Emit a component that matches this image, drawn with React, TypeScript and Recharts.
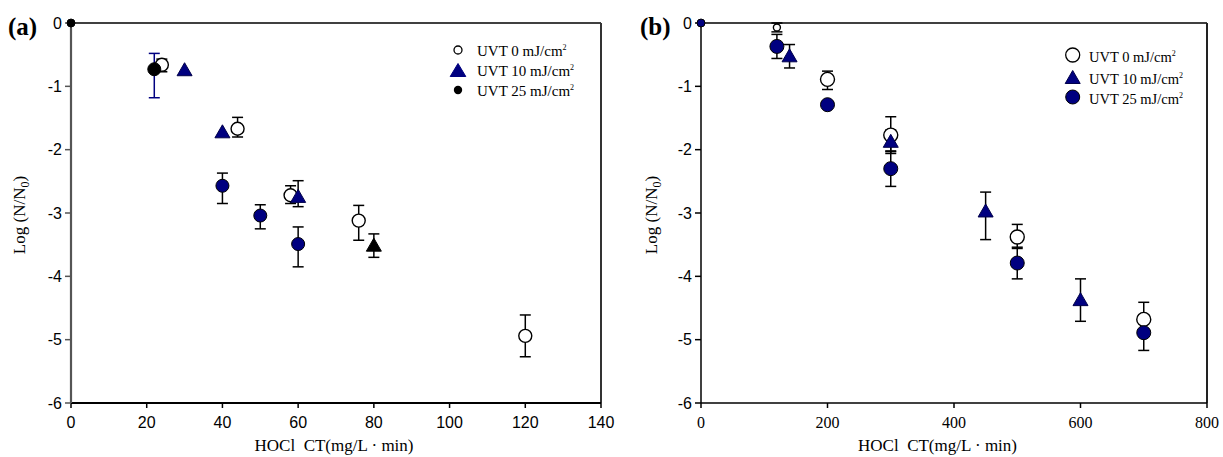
import React from 'react';
import { ScatterChart, Scatter, XAxis, YAxis, ErrorBar, ReferenceLine, Legend, Label } from 'recharts';

const NAVY = '#000080';
const BLACK = '#000000';
const SERIF = '"Liberation Serif", "Times New Roman", Times, serif';
const SANS = '"Liberation Sans", Arial, Helvetica, sans-serif';

// ---- shared tick labels / texts ----
const yTicks = [-6, -5, -4, -3, -2, -1, 0];
const xTicksA = [0, 20, 40, 60, 80, 100, 120, 140];
const xTicksB = [0, 200, 400, 600, 800];
const legendLabels = ['UVT 0 mJ/cm', 'UVT 10 mJ/cm', 'UVT 25 mJ/cm'];
const xTitle = 'HOCl  CT(mg/L \u00b7 min)';

// ---- panel (a) data ----
const ctA0 = [24, 44, 58, 76, 120];
const logA0 = [-0.66, -1.67, -2.72, -3.12, -4.94];
const errLoA0 = [0.11, 0.13, 0.13, 0.31, 0.33];
const errHiA0 = [0.09, 0.18, 0.15, 0.24, 0.33];

const ctA10 = [30, 40, 60, 80];
const logA10 = [-0.73, -1.71, -2.73, -3.5];
const errLoA10 = [0, 0, 0.17, 0.2];
const errHiA10 = [0, 0, 0.24, 0.17];

const ctA25 = [0, 22, 40, 50, 60];
const logA25 = [0, -0.73, -2.57, -3.04, -3.49];
const errLoA25 = [0, 0.45, 0.28, 0.21, 0.36];
const errHiA25 = [0, 0.25, 0.2, 0.17, 0.27];

// ---- panel (b) data ----
const ctB0 = [120, 200, 300, 500, 700];
const logB0 = [-0.07, -0.89, -1.77, -3.38, -4.68];
const errLoB0 = [0.07, 0.16, 0.29, 0.18, 0.27];
const errHiB0 = [0.07, 0.13, 0.29, 0.2, 0.27];

const ctB10 = [140, 300, 450, 600];
const logB10 = [-0.51, -1.86, -2.96, -4.36];
const errLoB10 = [0.2, 0.17, 0.46, 0.35];
const errHiB10 = [0.17, 0.17, 0.29, 0.32];

const ctB25 = [0, 120, 200, 300, 500, 700];
const logB25 = [0, -0.37, -1.29, -2.3, -3.79, -4.89];
const errLoB25 = [0, 0.19, 0, 0.28, 0.25, 0.28];
const errHiB25 = [0, 0.19, 0, 0.28, 0.25, 0.28];

// ---- styles (kept apart from data) ----
const fillA10 = [NAVY, NAVY, NAVY, BLACK];
const fillA25 = [BLACK, BLACK, NAVY, NAVY, NAVY];
const rA25 = [4, 6.5, 6.5, 6.5, 6.5];
const errColorA25 = [BLACK, NAVY, BLACK, BLACK, BLACK];
const rB0 = [3.5, 7, 7, 7, 7];
const rB25 = [4, 7, 7, 7, 7, 7];

type Pt = { x: number; y: number; errK: [number, number] | null; errN: [number, number] | null; fill: string; r: number };

function build(
  ct: number[], log: number[], lo: number[], hi: number[],
  fill: string | string[], r: number | number[], errColor: string | string[] = BLACK
): Pt[] {
  return ct.map((x, i) => {
    const f = Array.isArray(fill) ? fill[i] : fill;
    const rr = Array.isArray(r) ? r[i] : r;
    const ec = Array.isArray(errColor) ? errColor[i] : errColor;
    const has = lo[i] > 0 || hi[i] > 0;
    const e: [number, number] = [lo[i], hi[i]];
    return { x, y: log[i], errK: has && ec === BLACK ? e : null, errN: has && ec === NAVY ? e : null, fill: f, r: rr };
  });
}

const dataA0 = build(ctA0, logA0, errLoA0, errHiA0, '#ffffff', 6.5);
const dataA10 = build(ctA10, logA10, errLoA10, errHiA10, fillA10, 0);
const dataA25 = build(ctA25, logA25, errLoA25, errHiA25, fillA25, rA25, errColorA25);
const dataB0 = build(ctB0, logB0, errLoB0, errHiB0, '#ffffff', rB0);
const dataB10 = build(ctB10, logB10, errLoB10, errHiB10, NAVY, 0);
const dataB25 = build(ctB25, logB25, errLoB25, errHiB25, NAVY, rB25);

const openCircle = (props: any) => {
  const { cx, cy, payload } = props;
  return <circle cx={cx} cy={cy} r={payload.r} fill="#ffffff" stroke={BLACK} strokeWidth={1.4} />;
};
const filledCircle = (props: any) => {
  const { cx, cy, payload } = props;
  return <circle cx={cx} cy={cy} r={payload.r} fill={payload.fill} stroke={BLACK} strokeWidth={1} />;
};
const triangle = (props: any) => {
  const { cx, cy, payload } = props;
  const w = 15, h = 13;
  const d = `M${cx},${cy - h / 2} L${cx + w / 2},${cy + h / 2} L${cx - w / 2},${cy + h / 2} Z`;
  return <path d={d} fill={payload.fill} stroke={payload.fill === BLACK ? BLACK : '#00004a'} strokeWidth={1} />;
};

const Sup = ({ children, dy }: { children: any; dy: number }) => (
  <tspan dy={dy} fontSize={8}>{children}</tspan>
);

const LegendA = () => (
  <svg width={170} height={70} style={{ overflow: 'visible' }}>
    <circle cx={18} cy={15} r={4} fill="#fff" stroke={BLACK} strokeWidth={1.3} />
    <path d={`M18,${35 - 6.5} L${18 + 7.8},${35 + 6.5} L${18 - 7.8},${35 + 6.5} Z`} fill={NAVY} stroke={NAVY} />
    <circle cx={18} cy={55} r={4.2} fill={BLACK} />
    {legendLabels.map((t, i) => (
      <text key={i} x={37} y={15 + i * 20 + 6} fontFamily={SERIF} fontSize={15} fill={BLACK}>
        {t}
        <Sup dy={-6}>2</Sup>
      </text>
    ))}
  </svg>
);

const LegendB = () => (
  <svg width={170} height={70} style={{ overflow: 'visible' }}>
    <circle cx={20.7} cy={15} r={7} fill="#fff" stroke={BLACK} strokeWidth={1.3} />
    <path d={`M20.7,${37 - 6.5} L${20.7 + 7.5},${37 + 6.5} L${20.7 - 7.5},${37 + 6.5} Z`} fill={NAVY} stroke="#00004a" />
    <circle cx={20.7} cy={57} r={7} fill={NAVY} stroke={BLACK} />
    {legendLabels.map((t, i) => (
      <text key={i} x={37} y={[15, 37, 57][i] + 6.5} fontFamily={SERIF} fontSize={14.5} fill={BLACK}>
        {t}
        <Sup dy={-6}>2</Sup>
      </text>
    ))}
  </svg>
);

const yTitle = (x: number) => () => (
  <text x={x} y={215} transform={`rotate(-90, ${x}, 215)`} textAnchor="middle" fontFamily={SERIF} fontSize={17} fill={BLACK}>
    Log (N/N<tspan dy={4} fontSize={12}>0</tspan><tspan dy={-4}>)</tspan>
  </text>
);
const panelTag = (x: number, t: string) => () => (
  <text x={x} y={35} fontFamily={SERIF} fontSize={25} fontWeight="bold" fill={BLACK}>{t}</text>
);
const xTitleLabel = (cx: number) => () => (
  <text x={cx} y={451} textAnchor="middle" fontFamily={SERIF} fontSize={17} fill={BLACK} xmlSpace="preserve" style={{ whiteSpace: 'pre' }}>
    {xTitle}
  </text>
);

function errBars(navyToo: boolean) {
  const bars = [
    <ErrorBar key="k" dataKey="errK" direction="y" width={5.5} stroke={BLACK} strokeWidth={1.5} />,
  ];
  if (navyToo) bars.push(<ErrorBar key="n" dataKey="errN" direction="y" width={5.5} stroke={NAVY} strokeWidth={1.5} />);
  return bars;
}

export default function App() {
  return (
    <div style={{ position: 'absolute', left: 0, top: 0, width: 1223, height: 457, background: '#fff' }}>
      <div style={{ position: 'absolute', left: 0, top: 0 }}>
        <ScatterChart width={640} height={457} margin={{ top: 23, right: 39, left: 11, bottom: 24 }}>
          <XAxis
            type="number" dataKey="x" domain={[0, 140]} ticks={xTicksA} interval={0} height={30}
            axisLine={{ stroke: BLACK, strokeWidth: 2 }} tickLine={{ stroke: BLACK, strokeWidth: 1.5 }}
            tickSize={5} tickMargin={9}
            tick={{ fill: BLACK, fontSize: 16, fontFamily: SANS }}
          >
            <Label content={xTitleLabel(334)} />
          </XAxis>
          <YAxis
            type="number" dataKey="y" domain={[-6, 0]} ticks={yTicks} interval={0} width={60}
            axisLine={{ stroke: '#555555', strokeWidth: 2.2 }} tickLine={{ stroke: '#555555', strokeWidth: 1.5 }}
            tickSize={6} tickMargin={3}
            tick={{ fill: BLACK, fontSize: 16, fontFamily: SANS }}
          >
            <Label content={yTitle(25)} />
            <Label content={panelTag(8, '(a)')} />
          </YAxis>
          <ReferenceLine y={0} stroke={BLACK} strokeWidth={1.5} />
          <ReferenceLine x={140} stroke="#333333" strokeWidth={2} />
          <Scatter name="UVT 0" data={dataA0} shape={openCircle} isAnimationActive={false}>
            {errBars(false)}
          </Scatter>
          <Scatter name="UVT 10" data={dataA10} shape={triangle} isAnimationActive={false}>
            {errBars(false)}
          </Scatter>
          <Scatter name="UVT 25" data={dataA25} shape={filledCircle} isAnimationActive={false}>
            {errBars(true)}
          </Scatter>
          <Legend
            layout="horizontal" verticalAlign="middle" align="center"
            content={() => <LegendA />}
            wrapperStyle={{ left: 440, top: 35, width: 170, height: 70 }}
          />
        </ScatterChart>
      </div>
      <div style={{ position: 'absolute', left: 612, top: 0 }}>
        <ScatterChart width={611} height={457} margin={{ top: 23, right: 16, left: 29, bottom: 24 }}>
          <XAxis
            type="number" dataKey="x" domain={[0, 800]} ticks={xTicksB} interval={0} height={30}
            axisLine={{ stroke: BLACK, strokeWidth: 1.5 }} tickLine={{ stroke: BLACK, strokeWidth: 1.5 }}
            tickSize={5} tickMargin={9}
            tick={{ fill: BLACK, fontSize: 16, fontFamily: SERIF }}
          >
            <Label content={xTitleLabel(325.5)} />
          </XAxis>
          <YAxis
            type="number" dataKey="y" domain={[-6, 0]} ticks={yTicks} interval={0} width={60}
            axisLine={{ stroke: BLACK, strokeWidth: 1.5 }} tickLine={{ stroke: BLACK, strokeWidth: 1.5 }}
            tickSize={6} tickMargin={3}
            tick={{ fill: BLACK, fontSize: 16, fontFamily: SANS }}
          >
            <Label content={yTitle(45)} />
            <Label content={panelTag(28, '(b)')} />
          </YAxis>
          <ReferenceLine y={0} stroke={BLACK} strokeWidth={1.5} />
          <ReferenceLine x={800} stroke="#222222" strokeWidth={2} />
          <Scatter name="UVT 0" data={dataB0} shape={openCircle} isAnimationActive={false}>
            {errBars(false)}
          </Scatter>
          <Scatter name="UVT 10" data={dataB10} shape={triangle} isAnimationActive={false}>
            {errBars(false)}
          </Scatter>
          <Scatter name="UVT 25" data={dataB25} shape={filledCircle} isAnimationActive={false}>
            {errBars(false)}
          </Scatter>
          <Legend
            layout="horizontal" verticalAlign="middle" align="center"
            content={() => <LegendB />}
            wrapperStyle={{ left: 440, top: 40, width: 170, height: 70 }}
          />
        </ScatterChart>
      </div>
    </div>
  );
}
